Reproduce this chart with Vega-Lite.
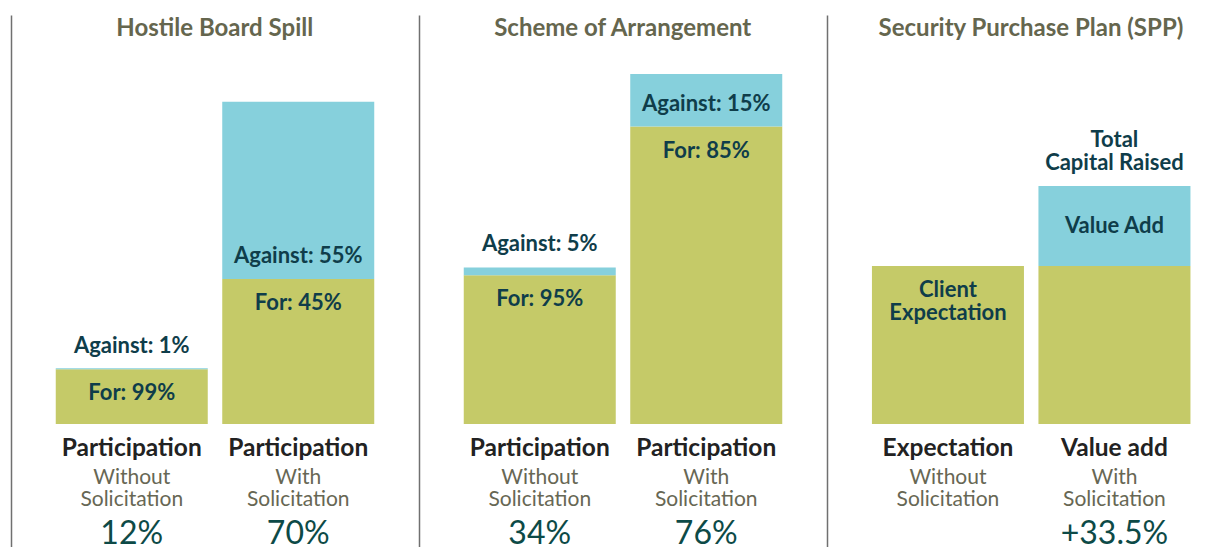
{
  "$schema": "https://vega.github.io/schema/vega-lite/v6.json",
  "padding": {"left": 11, "top": 15, "right": 0, "bottom": 0},
  "autosize": {"type": "pad"},
  "spacing": 0,
  "config": {
    "view": {"stroke": null},
    "axisY": {"domain": true, "domainColor": "#707070", "domainWidth": 1.5, "ticks": false, "labels": false, "grid": false}
  },
  "datasets": {
    "titles": [
      {"panel": "P1", "cat": "Without", "t": "Hostile Board Spill"},
      {"panel": "P2", "cat": "Without", "t": "Scheme of Arrangement"},
      {"panel": "P3", "cat": "Without", "t": "Security Purchase Plan (SPP)"}
    ],
    "bars": [
      {"panel": "P1", "cat": "Without", "seg": "For", "y0": 0, "y1": 11.88},
      {"panel": "P1", "cat": "Without", "seg": "Against", "y0": 11.88, "y1": 12.1},
      {"panel": "P1", "cat": "With", "seg": "For", "y0": 0, "y1": 31.5},
      {"panel": "P1", "cat": "With", "seg": "Against", "y0": 31.5, "y1": 70},
      {"panel": "P2", "cat": "Without", "seg": "For", "y0": 0, "y1": 32.3},
      {"panel": "P2", "cat": "Without", "seg": "Against", "y0": 32.3, "y1": 34},
      {"panel": "P2", "cat": "With", "seg": "For", "y0": 0, "y1": 64.6},
      {"panel": "P2", "cat": "With", "seg": "Against", "y0": 64.6, "y1": 76},
      {"panel": "P3", "cat": "Without", "seg": "Expectation", "y0": 0, "y1": 34.3},
      {"panel": "P3", "cat": "With", "seg": "Expectation", "y0": 0, "y1": 34.3},
      {"panel": "P3", "cat": "With", "seg": "Value Add", "y0": 34.3, "y1": 51.7}
    ],
    "labels": [
      {"panel": "P1", "cat": "Without", "pos": "above", "anchor": 12, "t": "Against: 1%"},
      {"panel": "P1", "cat": "Without", "pos": "below", "anchor": 11.88, "t": "For: 99%"},
      {"panel": "P1", "cat": "With", "pos": "above", "anchor": 31.5, "t": "Against: 55%"},
      {"panel": "P1", "cat": "With", "pos": "below", "anchor": 31.5, "t": "For: 45%"},
      {"panel": "P2", "cat": "Without", "pos": "above", "anchor": 34, "t": "Against: 5%"},
      {"panel": "P2", "cat": "Without", "pos": "below", "anchor": 32.3, "t": "For: 95%"},
      {"panel": "P2", "cat": "With", "pos": "above", "anchor": 64.6, "t": "Against: 15%"},
      {"panel": "P2", "cat": "With", "pos": "below", "anchor": 64.6, "t": "For: 85%"},
      {"panel": "P3", "cat": "Without", "pos": "below", "anchor": 34.3, "t": ["Client", "Expectation"]},
      {"panel": "P3", "cat": "With", "pos": "above2", "anchor": 51.7, "t": ["Total", "Capital Raised"]},
      {"panel": "P3", "cat": "With", "pos": "middle", "anchor": 43.0, "t": "Value Add"}
    ],
    "bottom": [
      {"panel": "P1", "cat": "Without", "head": "Participation", "sub1": "Without", "sub2": "Solicitation", "pct": "12%"},
      {"panel": "P1", "cat": "With", "head": "Participation", "sub1": "With", "sub2": "Solicitation", "pct": "70%"},
      {"panel": "P2", "cat": "Without", "head": "Participation", "sub1": "Without", "sub2": "Solicitation", "pct": "34%"},
      {"panel": "P2", "cat": "With", "head": "Participation", "sub1": "With", "sub2": "Solicitation", "pct": "76%"},
      {"panel": "P3", "cat": "Without", "head": "Expectation", "sub1": "Without", "sub2": "Solicitation", "pct": ""},
      {"panel": "P3", "cat": "With", "head": "Value add", "sub1": "With", "sub2": "Solicitation", "pct": "+33.5%"}
    ]
  },
  "hconcat": [
    {
      "width": 408, "height": 532,
      "layer": [
        {"data": {"name": "bars"}, "transform": [{"filter": "datum.panel === 'P1'"}],
         "mark": {"type": "bar"},
         "encoding": {
           "x": {"field": "cat", "type": "nominal", "scale": {"domain": ["Without", "With"], "paddingInner": 0.087, "paddingOuter": 0.2688}, "axis": null},
           "y": {"field": "y1", "type": "quantitative", "scale": {"domain": [-26.71, 88.82], "nice": false, "zero": false}, "axis": {"title": null}},
           "y2": {"field": "y0"},
           "color": {"field": "seg", "type": "nominal", "scale": {"domain": ["For", "Against", "Expectation", "Value Add"], "range": ["#c5ca68", "#86d0dc", "#c5ca68", "#86d0dc"]}, "legend": null}
         }},
        {"data": {"name": "titles"}, "transform": [{"filter": "datum.panel === 'P1'"}],
         "mark": {"type": "text", "baseline": "middle", "dy": 14, "dx": 7, "font": "Lato", "fontSize": 24, "fontWeight": "bold", "color": "#65664e"},
         "encoding": {
           "x": {"field": "cat", "type": "nominal", "bandPosition": 1, "axis": null},
           "y": {"datum": 88.82, "type": "quantitative", "axis": {"title": null}},
           "text": {"field": "t"}
         }},
        {"data": {"name": "labels"}, "transform": [{"filter": "datum.panel === 'P1' && datum.pos === 'above'"}],
         "mark": {"type": "text", "baseline": "bottom", "dy": -11, "font": "Lato", "fontSize": 22, "fontWeight": "bold", "color": "#0f3d4a", "lineHeight": 23},
         "encoding": {
           "x": {"field": "cat", "type": "nominal", "axis": null},
           "y": {"field": "anchor", "type": "quantitative", "axis": {"title": null}},
           "text": {"field": "t"}
         }},
        {"data": {"name": "labels"}, "transform": [{"filter": "datum.panel === 'P1' && datum.pos === 'below'"}],
         "mark": {"type": "text", "baseline": "top", "dy": 14, "font": "Lato", "fontSize": 22, "fontWeight": "bold", "color": "#0f3d4a", "lineHeight": 23},
         "encoding": {
           "x": {"field": "cat", "type": "nominal", "axis": null},
           "y": {"field": "anchor", "type": "quantitative", "axis": {"title": null}},
           "text": {"field": "t"}
         }},
        {"data": {"name": "bottom"}, "transform": [{"filter": "datum.panel === 'P1'"}],
         "layer": [
           {"mark": {"type": "text", "baseline": "middle", "dy": 25, "font": "Lato", "fontSize": 24.5, "fontWeight": "bold", "color": "#222222"},
            "encoding": {"text": {"field": "head"}}},
           {"mark": {"type": "text", "baseline": "middle", "dy": 54, "font": "Lato", "fontSize": 21, "color": "#676754"},
            "encoding": {"text": {"field": "sub1"}}},
           {"mark": {"type": "text", "baseline": "middle", "dy": 76, "font": "Lato", "fontSize": 21, "color": "#676754"},
            "encoding": {"text": {"field": "sub2"}}},
           {"mark": {"type": "text", "baseline": "middle", "dy": 110, "font": "Lato", "fontSize": 32, "color": "#0d4a47"},
            "encoding": {"text": {"field": "pct"}}}
         ],
         "encoding": {
           "x": {"field": "cat", "type": "nominal", "axis": null},
           "y": {"datum": 0, "type": "quantitative", "axis": {"title": null}}
         }}
      ]
    },
    {
      "width": 408, "height": 532,
      "layer": [
        {"data": {"name": "bars"}, "transform": [{"filter": "datum.panel === 'P2'"}],
         "mark": {"type": "bar"},
         "encoding": {
           "x": {"field": "cat", "type": "nominal", "scale": {"domain": ["Without", "With"], "paddingInner": 0.087, "paddingOuter": 0.2688}, "axis": null},
           "y": {"field": "y1", "type": "quantitative", "scale": {"domain": [-26.71, 88.82], "nice": false, "zero": false}, "axis": {"title": null}},
           "y2": {"field": "y0"},
           "color": {"field": "seg", "type": "nominal", "scale": {"domain": ["For", "Against", "Expectation", "Value Add"], "range": ["#c5ca68", "#86d0dc", "#c5ca68", "#86d0dc"]}, "legend": null}
         }},
        {"data": {"name": "titles"}, "transform": [{"filter": "datum.panel === 'P2'"}],
         "mark": {"type": "text", "baseline": "middle", "dy": 14, "dx": 7, "font": "Lato", "fontSize": 24, "fontWeight": "bold", "color": "#65664e"},
         "encoding": {
           "x": {"field": "cat", "type": "nominal", "bandPosition": 1, "axis": null},
           "y": {"datum": 88.82, "type": "quantitative", "axis": {"title": null}},
           "text": {"field": "t"}
         }},
        {"data": {"name": "labels"}, "transform": [{"filter": "datum.panel === 'P2' && datum.pos === 'above'"}],
         "mark": {"type": "text", "baseline": "bottom", "dy": -11, "font": "Lato", "fontSize": 22, "fontWeight": "bold", "color": "#0f3d4a", "lineHeight": 23},
         "encoding": {
           "x": {"field": "cat", "type": "nominal", "axis": null},
           "y": {"field": "anchor", "type": "quantitative", "axis": {"title": null}},
           "text": {"field": "t"}
         }},
        {"data": {"name": "labels"}, "transform": [{"filter": "datum.panel === 'P2' && datum.pos === 'below'"}],
         "mark": {"type": "text", "baseline": "top", "dy": 14, "font": "Lato", "fontSize": 22, "fontWeight": "bold", "color": "#0f3d4a", "lineHeight": 23},
         "encoding": {
           "x": {"field": "cat", "type": "nominal", "axis": null},
           "y": {"field": "anchor", "type": "quantitative", "axis": {"title": null}},
           "text": {"field": "t"}
         }},
        {"data": {"name": "bottom"}, "transform": [{"filter": "datum.panel === 'P2'"}],
         "layer": [
           {"mark": {"type": "text", "baseline": "middle", "dy": 25, "font": "Lato", "fontSize": 24.5, "fontWeight": "bold", "color": "#222222"},
            "encoding": {"text": {"field": "head"}}},
           {"mark": {"type": "text", "baseline": "middle", "dy": 54, "font": "Lato", "fontSize": 21, "color": "#676754"},
            "encoding": {"text": {"field": "sub1"}}},
           {"mark": {"type": "text", "baseline": "middle", "dy": 76, "font": "Lato", "fontSize": 21, "color": "#676754"},
            "encoding": {"text": {"field": "sub2"}}},
           {"mark": {"type": "text", "baseline": "middle", "dy": 110, "font": "Lato", "fontSize": 32, "color": "#0d4a47"},
            "encoding": {"text": {"field": "pct"}}}
         ],
         "encoding": {
           "x": {"field": "cat", "type": "nominal", "axis": null},
           "y": {"datum": 0, "type": "quantitative", "axis": {"title": null}}
         }}
      ]
    },
    {
      "width": 396, "height": 532,
      "layer": [
        {"data": {"name": "bars"}, "transform": [{"filter": "datum.panel === 'P3'"}],
         "mark": {"type": "bar"},
         "encoding": {
           "x": {"field": "cat", "type": "nominal", "scale": {"domain": ["Without", "With"], "paddingInner": 0.087, "paddingOuter": 0.2327, "align": 0.58}, "axis": null},
           "y": {"field": "y1", "type": "quantitative", "scale": {"domain": [-26.71, 88.82], "nice": false, "zero": false}, "axis": {"title": null}},
           "y2": {"field": "y0"},
           "color": {"field": "seg", "type": "nominal", "scale": {"domain": ["For", "Against", "Expectation", "Value Add"], "range": ["#c5ca68", "#86d0dc", "#c5ca68", "#86d0dc"]}, "legend": null}
         }},
        {"data": {"name": "titles"}, "transform": [{"filter": "datum.panel === 'P3'"}],
         "mark": {"type": "text", "baseline": "middle", "dy": 14, "dx": 7, "font": "Lato", "fontSize": 24, "fontWeight": "bold", "color": "#65664e"},
         "encoding": {
           "x": {"field": "cat", "type": "nominal", "bandPosition": 1, "axis": null},
           "y": {"datum": 88.82, "type": "quantitative", "axis": {"title": null}},
           "text": {"field": "t"}
         }},
        {"data": {"name": "labels"}, "transform": [{"filter": "datum.panel === 'P3' && datum.pos === 'above2'"}],
         "mark": {"type": "text", "baseline": "bottom", "dy": -34, "font": "Lato", "fontSize": 22, "fontWeight": "bold", "color": "#0f3d4a", "lineHeight": 23},
         "encoding": {
           "x": {"field": "cat", "type": "nominal", "axis": null},
           "y": {"field": "anchor", "type": "quantitative", "axis": {"title": null}},
           "text": {"field": "t"}
         }},
        {"data": {"name": "labels"}, "transform": [{"filter": "datum.panel === 'P3' && datum.pos === 'below'"}],
         "mark": {"type": "text", "baseline": "top", "dy": 14, "font": "Lato", "fontSize": 22, "fontWeight": "bold", "color": "#0f3d4a", "lineHeight": 23},
         "encoding": {
           "x": {"field": "cat", "type": "nominal", "axis": null},
           "y": {"field": "anchor", "type": "quantitative", "axis": {"title": null}},
           "text": {"field": "t"}
         }},
        {"data": {"name": "labels"}, "transform": [{"filter": "datum.panel === 'P3' && datum.pos === 'middle'"}],
         "mark": {"type": "text", "baseline": "middle", "font": "Lato", "fontSize": 22, "fontWeight": "bold", "color": "#0f3d4a"},
         "encoding": {
           "x": {"field": "cat", "type": "nominal", "axis": null},
           "y": {"field": "anchor", "type": "quantitative", "axis": {"title": null}},
           "text": {"field": "t"}
         }},
        {"data": {"name": "bottom"}, "transform": [{"filter": "datum.panel === 'P3'"}],
         "layer": [
           {"mark": {"type": "text", "baseline": "middle", "dy": 25, "font": "Lato", "fontSize": 24.5, "fontWeight": "bold", "color": "#222222"},
            "encoding": {"text": {"field": "head"}}},
           {"mark": {"type": "text", "baseline": "middle", "dy": 54, "font": "Lato", "fontSize": 21, "color": "#676754"},
            "encoding": {"text": {"field": "sub1"}}},
           {"mark": {"type": "text", "baseline": "middle", "dy": 76, "font": "Lato", "fontSize": 21, "color": "#676754"},
            "encoding": {"text": {"field": "sub2"}}},
           {"mark": {"type": "text", "baseline": "middle", "dy": 110, "font": "Lato", "fontSize": 32, "color": "#0d4a47"},
            "encoding": {"text": {"field": "pct"}}}
         ],
         "encoding": {
           "x": {"field": "cat", "type": "nominal", "axis": null},
           "y": {"datum": 0, "type": "quantitative", "axis": {"title": null}}
         }}
      ]
    }
  ]
}
